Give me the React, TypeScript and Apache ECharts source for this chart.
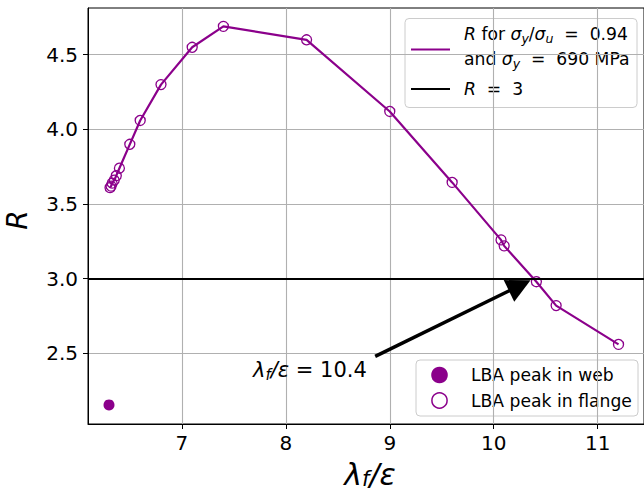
import React, { useEffect, useRef } from "react";
import * as echarts from "echarts";

const lambdaRatio = [6.31, 6.32, 6.33, 6.35, 6.37, 6.40, 6.50, 6.60, 6.80, 7.10, 7.40, 8.20, 9.00, 9.60, 10.07, 10.10, 10.41, 10.60, 11.20];
const rValues = [3.61, 3.62, 3.64, 3.66, 3.69, 3.74, 3.90, 4.06, 4.30, 4.55, 4.69, 4.60, 4.12, 3.645, 3.26, 3.22, 2.98, 2.82, 2.56];
const webPeak = [[6.30, 2.155]];
const rThreshold = 3;
const xTicks = [7, 8, 9, 10, 11];
const yTicks = [2.5, 3.0, 3.5, 4.0, 4.5];
const arrowFrom = [8.86, 2.48];
const arrowTo = [10.25, 2.954];

const PURPLE = "#8B008B";
const FONT = "DejaVu Sans";

export default function App() {
  const ref = useRef<HTMLDivElement>(null);
  useEffect(() => {
    const chart = echarts.init(ref.current!, null, { renderer: "svg" });
    const main = { fontFamily: FONT, fontSize: 17.2, color: "#000", lineHeight: 22 };
    const it = { ...main, fontStyle: "italic" };
    const sub = { fontFamily: FONT, fontSize: 12.5, fontStyle: "italic", color: "#000", lineHeight: 13, verticalAlign: "bottom" };
    const rich = { m: main, i: it, s: sub };
    const bigI = { fontFamily: FONT, fontSize: 21, fontStyle: "italic", color: "#000", lineHeight: 25 };
    const bigM = { fontFamily: FONT, fontSize: 21, color: "#000", lineHeight: 25 };
    const bigS = { fontFamily: FONT, fontSize: 15, fontStyle: "italic", color: "#000", lineHeight: 14, verticalAlign: "bottom" };
    const hugeI = { fontFamily: FONT, fontSize: 30, fontStyle: "italic", color: "#000", lineHeight: 30 };
    const hugeS = { fontFamily: FONT, fontSize: 21, fontStyle: "italic", color: "#000", lineHeight: 16, verticalAlign: "bottom" };

    chart.setOption({
      animation: false,
      backgroundColor: "#fff",
      grid: { left: 88, top: 8, width: 563, height: 416, show: true, borderColor: "#000", borderWidth: 1, backgroundColor: "transparent" },
      xAxis: {
        type: "value",
        min: 6.098,
        max: 11.445,
        axisLine: { show: true, lineStyle: { color: "#000", width: 1 } },
        axisTick: { show: true, length: 5, lineStyle: { color: "#000" }, customValues: xTicks },
        axisLabel: { customValues: xTicks, fontFamily: FONT, fontSize: 20, color: "#000", margin: 9 },
        splitLine: { show: true, lineStyle: { color: "#b0b0b0", width: 1.1 } },
      },
      yAxis: {
        type: "value",
        min: 2.027,
        max: 4.813,
        axisLine: { show: true, lineStyle: { color: "#000", width: 1 } },
        axisTick: { show: true, length: 5, lineStyle: { color: "#000" }, customValues: yTicks },
        axisLabel: { customValues: yTicks, fontFamily: FONT, fontSize: 20, color: "#000", margin: 10, formatter: (v: number) => v.toFixed(1) },
        splitLine: { show: true, lineStyle: { color: "#b0b0b0", width: 1.1 } },
      },
      series: [
        {
          type: "line",
          data: [],
          silent: true,
          markLine: {
            silent: true,
            symbol: ["none", "none"],
            label: { show: false },
            lineStyle: { color: "#000", width: 2, type: "solid" },
            data: [{ yAxis: rThreshold }],
          },
        },
        {
          type: "line",
          data: lambdaRatio.map((x, i) => [x, rValues[i]]),
          symbol: "circle",
          symbolSize: 10,
          showAllSymbol: true,
          lineStyle: { color: PURPLE, width: 2.2 },
          itemStyle: { color: "rgba(0,0,0,0)", borderColor: PURPLE, borderWidth: 1.3, opacity: 1 },
          z: 3,
        },
        {
          type: "scatter",
          data: webPeak,
          symbol: "circle",
          symbolSize: 11,
          itemStyle: { color: PURPLE, opacity: 1 },
          z: 3,
        },
        {
          type: "line",
          data: [],
          markLine: {
            silent: true,
            symbol: ["none", "triangle"],
            symbolSize: 24,
            label: { show: false },
            lineStyle: { color: "#000", width: 3.5, type: "solid" },
            itemStyle: { color: "#000" },
            data: [[{ coord: arrowFrom }, { coord: arrowTo }]],
          },
          z: 4,
        },
      ],
      graphic: [
        {
          type: "text",
          left: 253,
          top: 359,
          z: 10,
          style: { text: "{i|λ}{s|f}{i|/ε}{m| = 10.4}", rich: { i: bigI, m: bigM, s: bigS } },
        },
        {
          type: "text",
          x: 370,
          y: 474,
          z: 10,
          style: { text: "{i|λ}{s|f}{i|/ε}", rich: { i: hugeI, s: hugeS }, align: "center", verticalAlign: "middle" },
        },
        {
          type: "text",
          x: 17,
          y: 220,
          rotation: Math.PI / 2,
          z: 10,
          style: { text: "R", font: `italic 28px '${FONT}'`, fill: "#000", align: "center", verticalAlign: "middle" },
        },
        {
          type: "group",
          z: 20,
          children: [
            { type: "rect", shape: { x: 405, y: 18.5, width: 232, height: 89, r: 4 }, style: { fill: "rgba(255,255,255,0.8)", stroke: "#cccccc", lineWidth: 1 } },
            { type: "line", shape: { x1: 411, y1: 49.5, x2: 450, y2: 49.5 }, style: { stroke: PURPLE, lineWidth: 2.2 } },
            { type: "line", shape: { x1: 411, y1: 89, x2: 450, y2: 89 }, style: { stroke: "#000", lineWidth: 2.2 } },
            { type: "text", x: 464, y: 34, style: { text: "{i|R}{m| for }{i|σ}{s|y}{m|/}{i|σ}{s|u}{m|  =  0.94}", rich, verticalAlign: "middle" } },
            { type: "text", x: 464, y: 58.5, style: { text: "{m|and }{i|σ}{s|y}{m|  =  690 MPa}", rich, verticalAlign: "middle" } },
            { type: "text", x: 464, y: 89, style: { text: "{i|R}{m|  =  3}", rich, verticalAlign: "middle" } },
          ],
        },
        {
          type: "group",
          z: 20,
          children: [
            { type: "rect", shape: { x: 416, y: 360, width: 222, height: 56, r: 4 }, style: { fill: "rgba(255,255,255,0.8)", stroke: "#cccccc", lineWidth: 1 } },
            { type: "circle", shape: { cx: 439.5, cy: 375, r: 8.3 }, style: { fill: PURPLE } },
            { type: "circle", shape: { cx: 439.5, cy: 400.5, r: 7.6 }, style: { fill: "#fff", stroke: PURPLE, lineWidth: 1.5 } },
            { type: "text", x: 471, y: 375, style: { text: "LBA peak in web", font: `17.2px '${FONT}'`, fill: "#000", verticalAlign: "middle" } },
            { type: "text", x: 471, y: 400.5, style: { text: "LBA peak in flange", font: `17.2px '${FONT}'`, fill: "#000", verticalAlign: "middle" } },
          ],
        },
      ],
    });
    return () => chart.dispose();
  }, []);
  return <div ref={ref} style={{ position: "fixed", left: 0, top: 0, width: 644, height: 492 }} />;
}
